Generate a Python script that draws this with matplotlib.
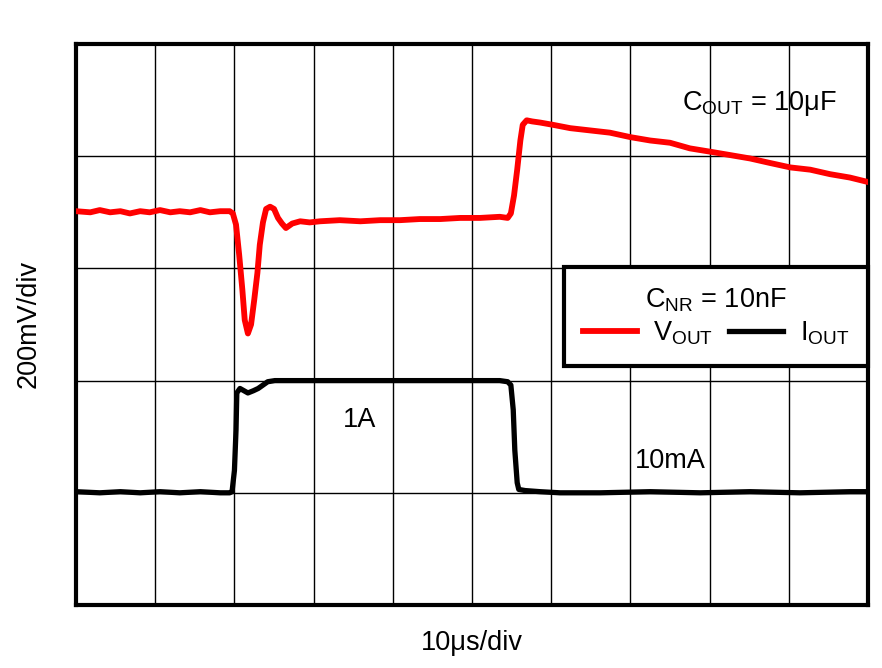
import matplotlib
matplotlib.use('Agg')
import matplotlib.pyplot as plt

plt.rcParams['font.family'] = ['Liberation Sans', 'DejaVu Sans']
plt.rcParams['mathtext.fontset'] = 'custom'
plt.rcParams['mathtext.rm'] = 'Liberation Sans'

# scope screen: time in us (10 us/div), traces in screen divisions
t_vout = [0, 1.8, 3.0, 4.3, 5.6, 6.8, 8.1, 9.3, 10.6, 11.9, 13.1, 14.4, 15.7, 16.9,
          18.2, 19.4, 19.8, 20.2, 20.6, 21.0, 21.3, 21.7, 22.1, 22.5, 22.9, 23.2,
          23.6, 24.0, 24.5, 25.0, 25.5, 26.0, 26.5, 27.3, 28.3, 29.5, 30.8, 33.3,
          35.9, 38.4, 40.9, 43.4, 46.0, 48.5, 51.0, 53.5, 54.5, 54.9, 55.3, 55.7,
          56.1, 56.4, 56.9, 57.6, 58.6, 60.2, 62.4, 64.9, 67.4, 70.0, 72.5, 75.0,
          77.5, 80.1, 82.6, 85.1, 87.6, 90.2, 92.7, 95.2, 97.7, 100]
v_out = [3.51, 3.50, 3.52, 3.50, 3.51, 3.49, 3.51, 3.50, 3.52, 3.50, 3.51, 3.50,
         3.52, 3.50, 3.51, 3.51, 3.49, 3.39, 3.12, 2.81, 2.54, 2.42, 2.50, 2.72,
         2.96, 3.21, 3.41, 3.53, 3.55, 3.53, 3.45, 3.40, 3.36, 3.40, 3.42, 3.41,
         3.42, 3.43, 3.42, 3.43, 3.43, 3.44, 3.44, 3.45, 3.45, 3.46, 3.45, 3.49,
         3.65, 3.88, 4.14, 4.28, 4.32, 4.31, 4.30, 4.28, 4.25, 4.23, 4.21, 4.17,
         4.14, 4.12, 4.07, 4.04, 4.01, 3.98, 3.94, 3.90, 3.88, 3.84, 3.81, 3.77]

t_iout = [0, 3.0, 5.6, 8.1, 10.6, 13.1, 15.7, 18.2, 19.4, 19.7, 20.0, 20.2, 20.3,
          20.7, 21.2, 21.7, 22.4, 23.0, 23.6, 24.2, 25.1, 28.3, 34.6, 40.9, 47.2,
          53.5, 54.5, 54.9, 55.2, 55.4, 55.7, 55.9, 56.7, 58.6, 61.1, 66.2, 72.5,
          78.8, 85.1, 91.4, 97.7, 100]
i_out = [1.01, 1.00, 1.01, 1.00, 1.01, 1.00, 1.01, 1.00, 1.00, 1.01, 1.20, 1.56,
         1.89, 1.93, 1.91, 1.89, 1.91, 1.93, 1.96, 1.99, 2.00, 2.00, 2.00, 2.00,
         2.00, 2.00, 1.99, 1.96, 1.74, 1.38, 1.09, 1.03, 1.02, 1.01, 1.00, 1.00,
         1.01, 1.00, 1.01, 1.00, 1.01, 1.01]

fig = plt.figure(figsize=(8.82, 6.68), dpi=100)
ax = fig.add_axes([0.0862, 0.0943, 0.898, 0.8398])

ax.plot(t_vout, v_out, color='#ff0000', lw=4.2, label='V$_\\mathregular{OUT}$', zorder=3)
ax.plot(t_iout, i_out, color='black', lw=3.8, label='I$_\\mathregular{OUT}$', zorder=3)

ax.set_xlim(0, 100)
ax.set_ylim(0, 5)
ax.set_xticks(range(0, 101, 10))
ax.set_yticks(range(0, 6))
ax.tick_params(length=0, labelbottom=False, labelleft=False)
ax.grid(True, color='black', lw=1.0)
for s in ax.spines.values():
    s.set_linewidth(3)

fs = 19.5
ax.text(0.765, 0.882, 'C$_\\mathregular{OUT}$ = 10\u03bcF', transform=ax.transAxes,
        fontsize=fs, ha='left', va='baseline')
ax.text(0.337, 0.317, '1A', transform=ax.transAxes, fontsize=fs, ha='left', va='baseline')
ax.text(0.706, 0.244, '10mA', transform=ax.transAxes, fontsize=fs, ha='left', va='baseline')

leg = ax.legend(loc='upper right', bbox_to_anchor=(1.0, 0.602), ncol=2, fontsize=fs,
                title='C$_\\mathregular{NR}$ = 10nF', title_fontsize=fs,
                handlelength=2.0, handletextpad=0.6, columnspacing=0.6,
                fancybox=False, framealpha=1, edgecolor='black', borderpad=0.7,
                labelspacing=0.2, borderaxespad=0)
leg.get_frame().set_linewidth(3)
leg.set_zorder(5)

fig.text(0.535, 0.027, '10\u03bcs/div', fontsize=fs, ha='center', va='baseline')
fig.text(0.033, 0.515, '200mV/div', fontsize=fs, ha='center', va='center', rotation=90)

fig.savefig('out.png', dpi=100)
